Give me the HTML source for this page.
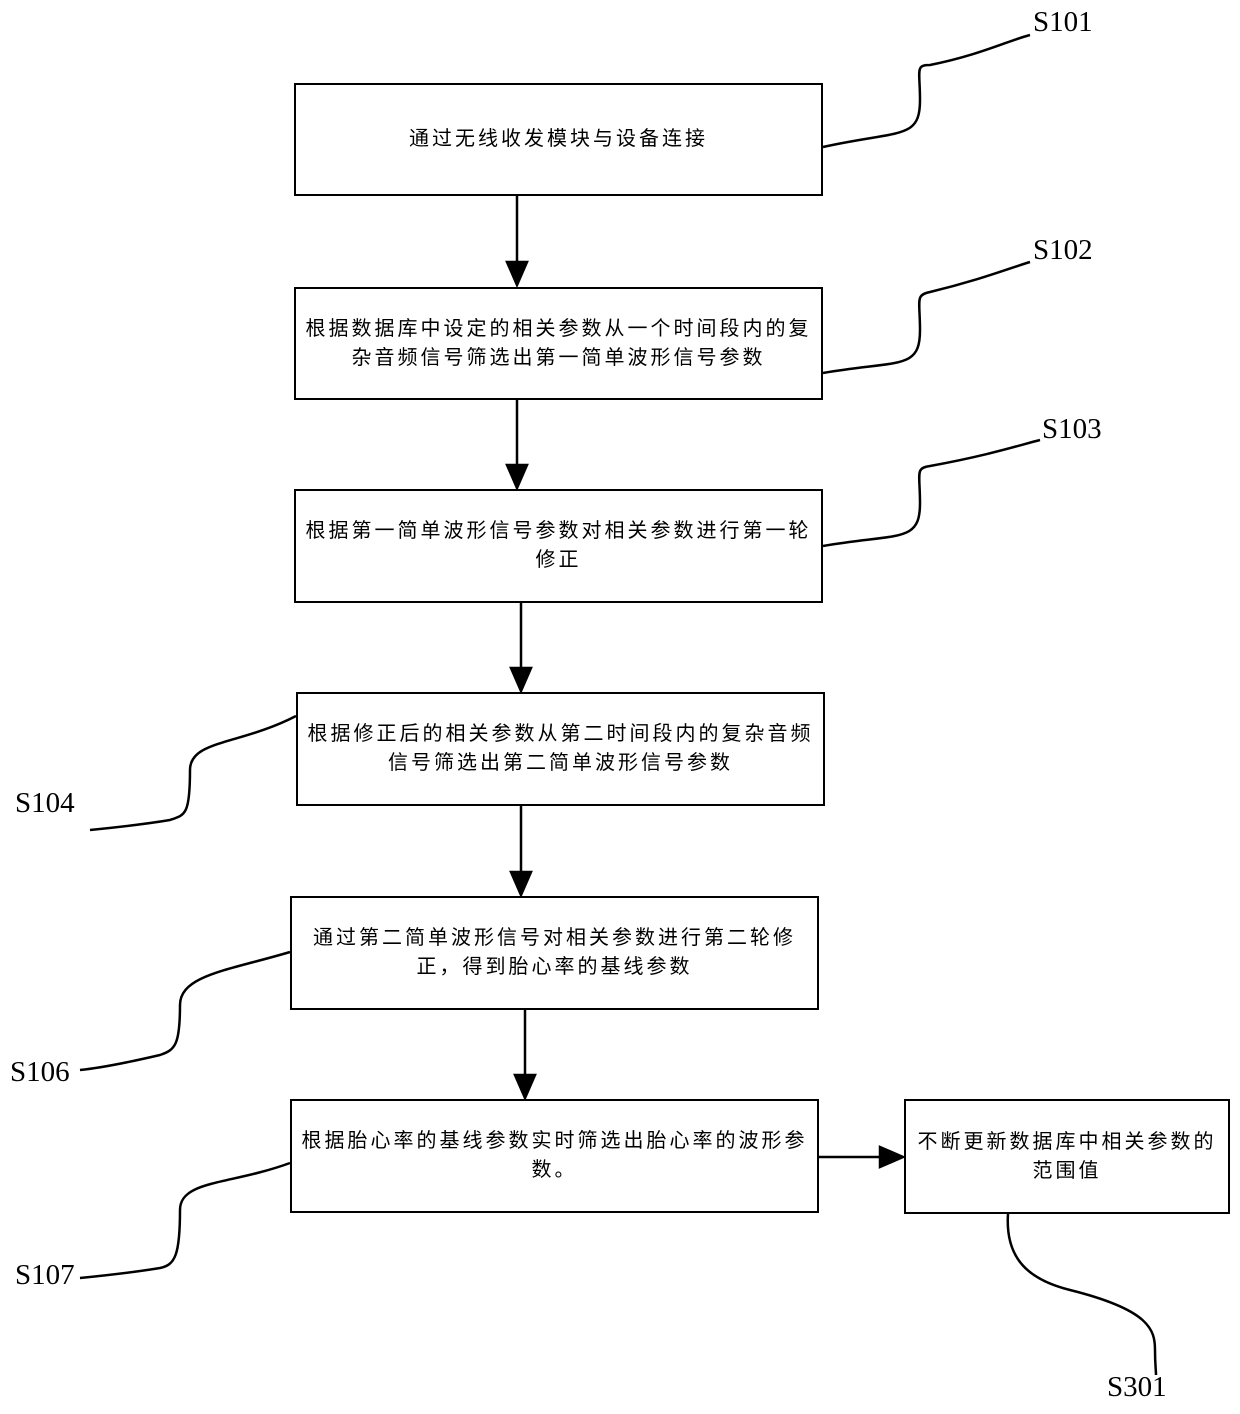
<!DOCTYPE html>
<html><head><meta charset="utf-8"><style>
body{margin:0;background:#fff;}
.w{position:relative;width:1240px;height:1414px;overflow:hidden;font-family:"Liberation Serif","Noto Serif CJK SC",serif;}
.b{position:absolute;border:2px solid #000;box-sizing:border-box;display:flex;align-items:center;justify-content:center;text-align:center;font-family:"Liberation Sans","Noto Sans CJK SC",sans-serif;font-size:20px;letter-spacing:3px;line-height:29px;padding:0 8px;}
.l{position:absolute;font-size:29px;}
svg{position:absolute;left:0;top:0;}
</style></head><body><div class="w">
<svg width="1240" height="1414" fill="none" stroke="#000" stroke-width="2.5">
<line x1="517" y1="196" x2="517" y2="262"/><polygon points="507,262 527,262 517,285" fill="#000"/>
<line x1="517" y1="400" x2="517" y2="465"/><polygon points="507,465 527,465 517,488" fill="#000"/>
<line x1="521" y1="603" x2="521" y2="668"/><polygon points="511,668 531,668 521,691" fill="#000"/>
<line x1="521" y1="806" x2="521" y2="872"/><polygon points="511,872 531,872 521,895" fill="#000"/>
<line x1="525" y1="1010" x2="525" y2="1075"/><polygon points="515,1075 535,1075 525,1098" fill="#000"/>
<line x1="819" y1="1157" x2="880" y2="1157"/><polygon points="880,1147 880,1167 903,1157" fill="#000"/>
<path d="M823,147 C900,130 920,140 920,100 C920,70 915,65 930,65 C980,55 1010,40 1030,35"/>
<path d="M823,373 C900,360 920,370 920,330 C920,300 915,295 930,292 C980,280 1010,268 1030,262"/>
<path d="M823,546 C900,533 920,543 920,503 C920,473 915,468 930,466 C990,455 1020,445 1040,440"/>
<path d="M296,716 C240,745 190,740 190,770 C190,815 185,815 170,820 C140,825 110,828 90,830"/>
<path d="M290,952 C230,970 180,975 180,1005 C180,1045 175,1050 160,1055 C130,1062 100,1068 80,1070"/>
<path d="M290,1163 C230,1185 180,1180 180,1210 C180,1255 175,1265 160,1268 C130,1273 100,1276 80,1278"/>
<path d="M1008,1214 C1005,1260 1030,1280 1070,1290 C1150,1310 1155,1330 1155,1350 C1155,1365 1156,1370 1156,1375"/>
</svg>
<div class="b" style="left:294px;top:83px;width:529px;height:113px;">通过无线收发模块与设备连接</div>
<div class="b" style="left:294px;top:287px;width:529px;height:113px;">根据数据库中设定的相关参数从一个时间段内的复杂音频信号筛选出第一简单波形信号参数</div>
<div class="b" style="left:294px;top:489px;width:529px;height:114px;">根据第一简单波形信号参数对相关参数进行第一轮修正</div>
<div class="b" style="left:296px;top:692px;width:529px;height:114px;">根据修正后的相关参数从第二时间段内的复杂音频信号筛选出第二简单波形信号参数</div>
<div class="b" style="left:290px;top:896px;width:529px;height:114px;padding:0 20px;">通过第二简单波形信号对相关参数进行第二轮修正，得到胎心率的基线参数</div>
<div class="b" style="left:290px;top:1099px;width:529px;height:114px;">根据胎心率的基线参数实时筛选出胎心率的波形参数。</div>
<div class="b" style="left:904px;top:1099px;width:326px;height:115px;">不断更新数据库中相关参数的范围值</div>
<div class="l" style="left:1033px;top:6px;">S101</div>
<div class="l" style="left:1033px;top:234px;">S102</div>
<div class="l" style="left:1042px;top:413px;">S103</div>
<div class="l" style="left:15px;top:787px;">S104</div>
<div class="l" style="left:10px;top:1056px;">S106</div>
<div class="l" style="left:15px;top:1259px;">S107</div>
<div class="l" style="left:1107px;top:1371px;">S301</div>
</div></body></html>
